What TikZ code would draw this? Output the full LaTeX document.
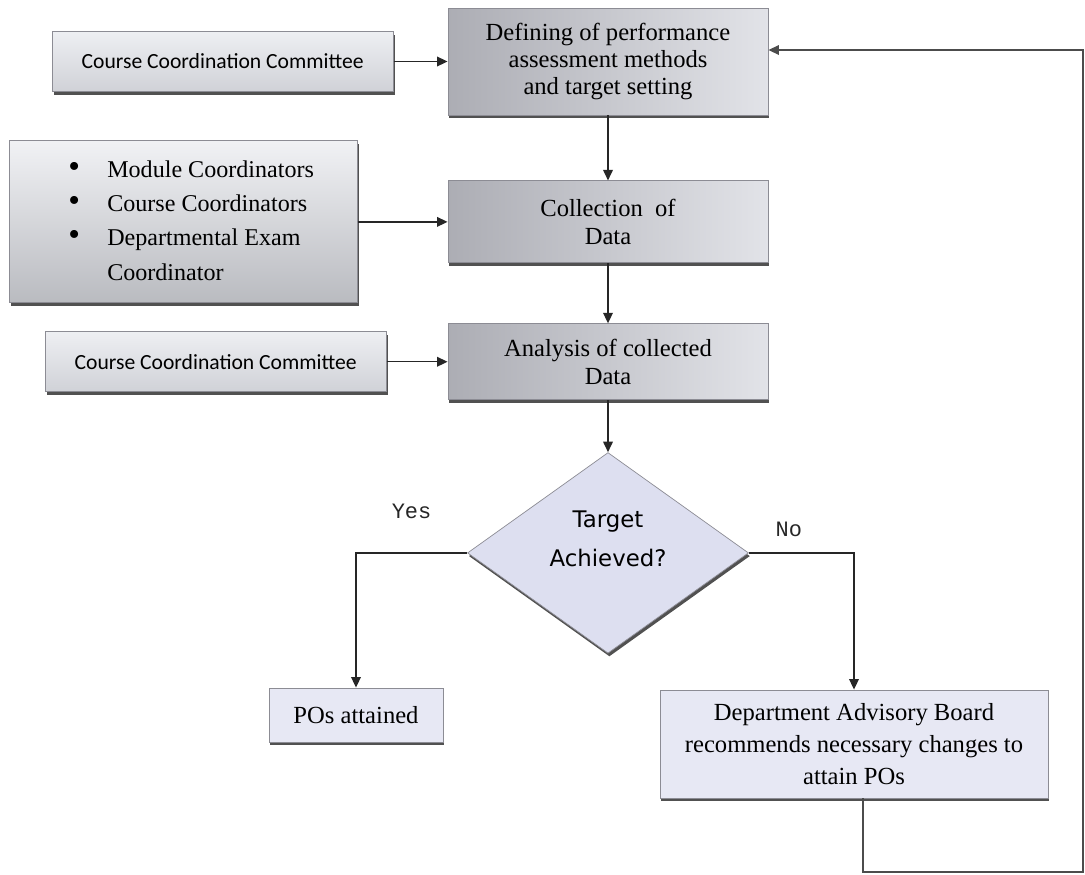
\documentclass[tikz,border=0pt]{standalone}
\usepackage{fontspec}
\setmainfont{Liberation Serif}
\newfontfamily\calfont{Carlito}
\newfontfamily\diafont{DejaVu Sans}
\newfontfamily\ynfont{Liberation Mono}
\usetikzlibrary{shapes.geometric, arrows.meta, positioning, shadows}
\definecolor{boxdark}{RGB}{172,173,180}
\definecolor{boxlight}{RGB}{226,227,232}
\definecolor{comfill}{RGB}{226,228,234}
\definecolor{lavender}{RGB}{231,232,244}
\definecolor{diafill}{RGB}{221,223,240}
\definecolor{edgegray}{RGB}{140,140,148}
\newcommand{\listdot}{{\fontsize{19}{19}\selectfont\textbullet}}

\begin{document}
\begin{tikzpicture}[
    node distance=1.2cm,
    boxshadow/.style={drop shadow={shadow xshift=0.8pt, shadow yshift=-1.8pt,
                      fill=black!80, opacity=0.85}},
    stage/.style={draw=edgegray, line width=0.5pt, left color=boxdark, right color=boxlight,
                  minimum width=6.4cm, align=center, font=\fontsize{14}{16}\selectfont,
                  boxshadow},
    committee/.style={draw=edgegray, line width=0.5pt, top color=comfill!60!white,
                      bottom color=comfill!92!black, minimum width=6.82cm, minimum height=1.2cm,
                      font=\calfont\fontsize{12.3}{14}\selectfont, boxshadow},
    members/.style={draw=edgegray, line width=0.5pt, top color=comfill!50!white,
                    bottom color=comfill!82!black, minimum width=6.96cm, minimum height=3.24cm,
                    font=\fontsize{13.7}{19.6}\selectfont, boxshadow},
    decision/.style={draw=edgegray, diamond, fill=diafill, minimum width=5.62cm,
                     minimum height=3.94cm, inner sep=0pt, align=center, text depth=0.57cm,
                     font=\diafont\fontsize{13}{22}\selectfont, boxshadow},
    outcome/.style={draw=edgegray, line width=0.5pt, fill=lavender, align=center,
                    font=\fontsize{14}{18}\selectfont, boxshadow},
    yesno/.style={font=\ynfont\fontsize{12.5}{14}\selectfont},
    arr/.style={-{Triangle[length=6pt, width=5.5pt]}, line width=0.8pt, black!85},
    feedback/.style={-{Triangle[length=6pt, width=5.5pt]}, line width=0.7pt, black!70},
  ]
    \useasboundingbox (0,0) rectangle (21.7,-17.48);

    % main chain
    \node[stage, minimum height=2.14cm, font=\fontsize{14}{15.5}\selectfont] (define) at (12.16,-1.23)
      {Defining of performance\\assessment methods\\and target setting};
    \node[stage, minimum height=1.64cm, below=1.3cm of define] (collect) {Collection\ \ of\\Data};
    \node[stage, minimum height=1.52cm, below=1.2cm of collect] (analyse) {Analysis of collected\\Data};
    \node[decision, below=1.04cm of analyse] (target) {Target\\Achieved?};

    % who is involved
    \node[committee, left=1.08cm of define] (cccdefine) {Course Coordination Committee};
    \node[members, left=1.8cm of collect] (coordinators) {\hspace*{0.32cm}%
      \begin{tabular}{@{}p{0.78cm}@{}l@{}}
        \listdot & Module Coordinators\\
        \listdot & Course Coordinators\\
        \listdot & Departmental Exam\\
                 & Coordinator
      \end{tabular}};
    \node[committee, left=1.22cm of analyse] (cccanalyse) {Course Coordination Committee};

    % outcomes
    \node[outcome, minimum width=3.48cm, minimum height=1.08cm] (attained) at (7.12,-14.3) {POs attained};
    \node[outcome, minimum width=7.76cm, minimum height=2.16cm] (advisory) at (17.08,-14.88)
      {Department Advisory Board\\recommends necessary changes to\\attain POs};
    \coordinate (loopcorner) at (21.66,-17.44);

    \draw[arr] (cccdefine) -- (define);
    \draw[arr] (coordinators) -- (collect);
    \draw[arr] (cccanalyse) -- (analyse);
    \draw[arr] (define) -- (collect);
    \draw[arr] (collect) -- (analyse);
    \draw[arr] (analyse) -- (target);
    \draw[arr] (target.west) -| node[yesno, pos=0.25, above=0.55cm] {Yes} (attained.north);
    \draw[arr] (target.east) -| node[yesno, pos=0.19, above=0.2cm] {No} (advisory.north);
    \draw[feedback] ([xshift=0.18cm]advisory.south) |- (loopcorner) |- ([yshift=0.23cm]define.east);
\end{tikzpicture}
\end{document}
